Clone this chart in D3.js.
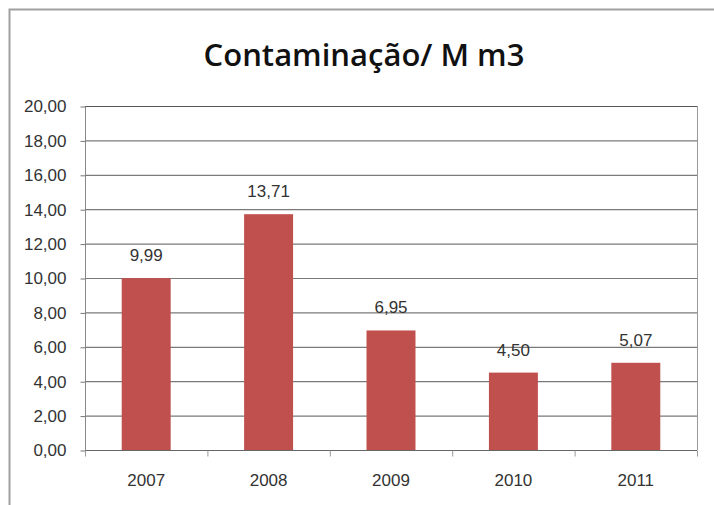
<!DOCTYPE html>
<html>
<head>
<meta charset="utf-8">
<script src="https://cdn.jsdelivr.net/npm/d3@7"></script>
<style>
  body { margin: 0; background: #fff; }
  svg { display: block; }
</style>
</head>
<body>
<script>
// chart values
var years = ["2007", "2008", "2009", "2010", "2011"];
var values = [9.99, 13.71, 6.95, 4.50, 5.07];
var yTicks = [0, 2, 4, 6, 8, 10, 12, 14, 16, 18, 20];
var title = "Contaminação/ M m3";

var width = 714, height = 505;
var mLeft = 85, mRight = 697, mTop = 106, mBottom = 450;

var fmt = function(v) { return v.toFixed(2).replace(".", ","); };
var labelFont = "'Liberation Sans', sans-serif";

var svg = d3.select("body").append("svg")
    .attr("width", width)
    .attr("height", height);

// outer frame
svg.append("rect")
    .attr("x", 9.5).attr("y", 9.5)
    .attr("width", 714).attr("height", 510)
    .attr("fill", "#fff")
    .attr("stroke", "#a0a0a0")
    .attr("stroke-width", 2);

svg.append("text")
    .attr("x", 364)
    .attr("y", 66)
    .attr("text-anchor", "middle")
    .style("font-family", "'Open Sans', sans-serif")
    .style("font-size", "31px")
    .style("font-weight", "600")
    .attr("fill", "#111")
    .text(title);

var x = d3.scaleBand().domain(years).range([mLeft, mRight]).paddingInner(0.6).paddingOuter(0.3);
var y = d3.scaleLinear().domain([0, 20]).range([mBottom, mTop]);

// gridlines
svg.append("g").selectAll("line")
    .data(yTicks.slice(1))
  .enter().append("line")
    .attr("x1", mLeft).attr("x2", mRight)
    .attr("y1", d => y(d) + 0.5).attr("y2", d => y(d) + 0.5)
    .attr("stroke", d => d === 20 ? "#555" : "#7a7a7a")
    .attr("stroke-width", 1.2);

// right edge of plot
svg.append("line")
    .attr("x1", mRight + 0.5).attr("x2", mRight + 0.5)
    .attr("y1", mTop).attr("y2", mBottom)
    .attr("stroke", "#999");

// bars
svg.append("g").selectAll("rect")
    .data(values)
  .enter().append("rect")
    .attr("x", (d, i) => x(years[i]))
    .attr("width", x.bandwidth())
    .attr("y", d => y(d))
    .attr("height", d => mBottom - y(d))
    .attr("fill", "#c0504d");

// value labels
svg.append("g").selectAll("text")
    .data(values)
  .enter().append("text")
    .attr("x", (d, i) => x(years[i]) + x.bandwidth() / 2)
    .attr("y", d => y(d) - 17)
    .attr("text-anchor", "middle")
    .style("font-family", labelFont)
    .style("font-size", "17px")
    .attr("fill", "#333")
    .text(fmt);

// y axis
var yAxis = svg.append("g")
    .attr("transform", "translate(" + (mLeft + 0.5) + ",0.5)")
    .call(d3.axisLeft(y).tickValues(yTicks).tickFormat(fmt).tickSize(5).tickPadding(14));
yAxis.select(".domain").attr("stroke", "#888").attr("d", "M0," + mTop + "V" + mBottom);
yAxis.selectAll(".tick line").attr("stroke", "#777");
yAxis.selectAll("text")
    .style("font-family", labelFont)
    .style("font-size", "17px")
    .attr("fill", "#333");

// x axis
var xAxis = svg.append("g")
    .attr("transform", "translate(0," + (mBottom + 0.5) + ")")
    .call(d3.axisBottom(x).tickSize(0).tickPadding(23));
xAxis.select(".domain").attr("stroke", "#666").attr("d", "M" + mLeft + ",0H" + mRight);
xAxis.selectAll("text")
    .style("font-family", labelFont)
    .style("font-size", "17px")
    .attr("fill", "#333");
// boundary ticks between categories
xAxis.append("g").selectAll("line")
    .data(d3.range(years.length + 1))
  .enter().append("line")
    .attr("x1", i => mLeft + x.step() * i + 0.5)
    .attr("x2", i => mLeft + x.step() * i + 0.5)
    .attr("y1", 0).attr("y2", 6)
    .attr("stroke", "#999");
</script>
</body>
</html>
